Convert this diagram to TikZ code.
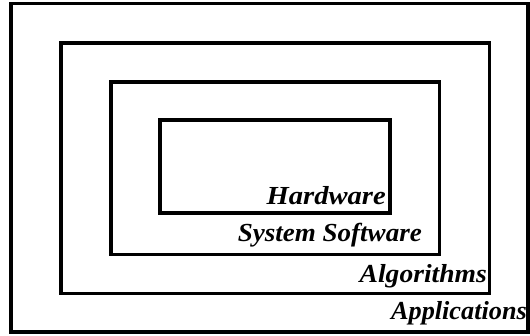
\documentclass[tikz,border=0pt]{standalone}
\usepackage{fontspec}
\setmainfont{Liberation Serif}
\begin{document}
\begin{tikzpicture}[x=1pt,y=-1pt,
  layer/.style={draw=black, line width=3.5pt},
  lbl/.style={anchor=base east, inner sep=0pt, font=\fontsize{26}{28}\selectfont\bfseries\itshape}]
\useasboundingbox (0,0) rectangle (530,336);
\coordinate (o1) at (11,3.5);   \coordinate (o2) at (528,332);
\coordinate (s1) at (61,43);    \coordinate (s2) at (489.5,293.5);
\coordinate (t1) at (111,82);   \coordinate (t2) at (439.5,254.5);
\coordinate (i1) at (160,120);  \coordinate (i2) at (390,213);
\draw[layer] (o1) rectangle (o2);
\draw[layer] (s1) rectangle (s2);
\draw[layer] (t1) rectangle (t2);
\draw[layer] (i1) rectangle (i2);
\node[lbl] (hw) at (386,205) {\scalebox{1.1}[1]{Hardware}};
\node[lbl] (ss) at (422,242) {\scalebox{1.04}[1]{System Software}};
\node[lbl] (al) at (487,283) {\scalebox{1.06}[1]{Algorithms}};
\node[lbl] (ap) at (527,320) {\scalebox{1.01}[1]{Applications}};
\end{tikzpicture}
\end{document}
